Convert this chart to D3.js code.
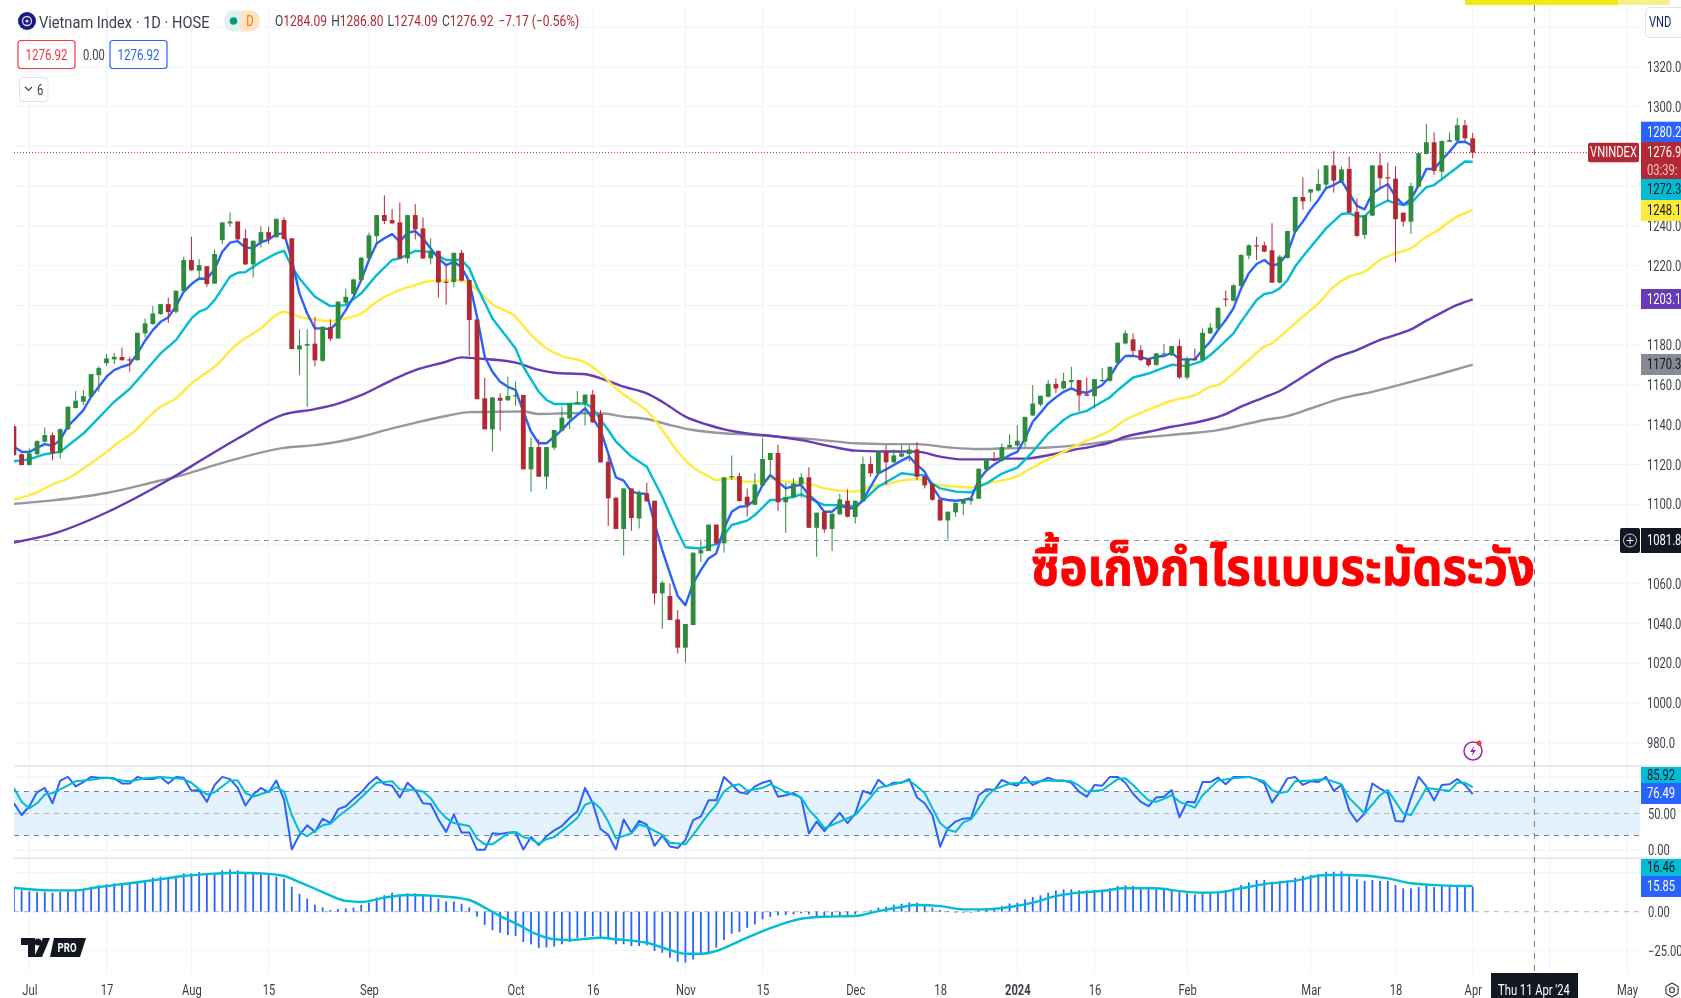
<!DOCTYPE html>
<html>
<head>
<meta charset="utf-8">
<title>Vietnam Index</title>
<script src="https://cdn.jsdelivr.net/npm/d3@7"></script>
<style>
    html, body { margin: 0; padding: 0; background: #fff; overflow: hidden; }
    text { font-family: Roboto, sans-serif; }
</style>
</head>
<body>
<div id="chart"></div>
<script>
// Daily candles, bar 0 is the first visible session, bar 189 is 1 Apr 2024
const opens = [
    1139.3,1125.2,1119.7,1125.2,1131.5,1134.8,1125.9,1137.7,1148.4,1151.6,
    1154.1,1165,1171,1172.9,1174.1,1172.9,1172.5,1186,1190.7,1195.7,
    1200.7,1196.9,1207.3,1222.9,1217.5,1219.8,1211,1232.9,1241.3,1242.3,
    1233.8,1220.7,1231.9,1236.9,1234.3,1243,1233.8,1177.9,1179.8,1180.8,
    1172.2,1189.1,1183.4,1201.4,1205.8,1212.8,1223.7,1234.9,1245.5,1243,
    1241.8,1223.7,1245.5,1238.8,1223.7,1227.5,1212,1211.8,1226.5,1212.8,
    1193,1153.3,1137.7,1153.6,1152.3,1154.3,1155,1117.6,1128.8,1113.9,
    1128.5,1137,1143.1,1150.5,1150.8,1155.2,1145.4,1121.4,1103.3,1087.6,
    1108,1092.9,1105.5,1101.8,1055.2,1053.9,1042.1,1027.9,1039.3,1075.3,
    1076.5,1089.8,1080.4,1113.6,1114.2,1103.8,1099.8,1109.4,1122.3,1125.8,
    1101,1103.5,1110.2,1113.6,1088.2,1096.3,1087.6,1095,1101.8,1093.6,
    1101.5,1120.3,1115.6,1126.5,1121.1,1124,1125.3,1127.6,1114.2,1110,
    1102.5,1091.9,1096,1100.3,1101.8,1102.8,1117.5,1122.6,1121.9,1128.6,
    1129.6,1131.6,1144.7,1150.2,1154.1,1160.6,1158.3,1161.5,1162.5,1155.3,
    1154.4,1162,1162.1,1171.2,1180.9,1183,1177.6,1173.4,1170,1175.6,
    1175,1179.6,1163.8,1173.2,1172.6,1186,1188.4,1203.5,1202.4,1209.8,
    1225.1,1230.3,1230.3,1227.8,1211.5,1223.9,1237.2,1254.6,1256.8,1257.8,
    1260.8,1270.5,1262.6,1268.7,1247.2,1235.5,1245.2,1270.5,1264.5,1263.8,
    1246.7,1242.2,1259.8,1276.2,1282.1,1267.3,1282.4,1282.9,1290.7,1284.09
];
const highs = [
    1140.3,1125.6,1128.1,1132.3,1138.7,1136.1,1138.2,1149.1,1156.9,1157.4,
    1165.5,1169.5,1175.6,1176.1,1178.9,1174.2,1186.3,1193.5,1199.7,1200.7,
    1204,1207.8,1224.5,1234.6,1223.4,1219.8,1228.2,1241.8,1246.8,1242.3,
    1238.3,1232.6,1240,1239.6,1243.6,1244.3,1233.8,1188.1,1188.1,1194.3,
    1189.6,1193,1202,1208.6,1213.5,1224.5,1236.6,1245.5,1255.4,1248.5,
    1251.7,1245.5,1251,1244.3,1233.8,1227.5,1220.3,1226.5,1227.9,1212.8,
    1193,1163.7,1153.8,1155.8,1164.2,1161.7,1155,1133.7,1132.7,1128.8,
    1137.4,1149.1,1150.8,1157,1155.2,1157.5,1147.4,1124.8,1103.8,1108,
    1108,1107.2,1110.9,1101.8,1061.6,1060.2,1046.8,1039.8,1075.7,1082.4,
    1089.8,1089.8,1113.6,1124.6,1115.9,1108,1115.6,1133.2,1125.8,1130,
    1110.9,1113.1,1115.6,1118.6,1095.8,1096.8,1095.3,1105.2,1107.5,1101.8,
    1124,1124,1126.5,1130,1127.6,1129.8,1129.8,1131.3,1114.2,1110.6,
    1102.5,1096.3,1100.8,1102.2,1103.8,1118.2,1123.1,1126.4,1130.6,1135.1,
    1139.8,1144,1160,1154.6,1162.5,1163.3,1166.2,1169.2,1162.5,1163.8,
    1163,1168.7,1169.2,1181.3,1187.5,1186,1180.1,1173.4,1176.2,1180.6,
    1179.6,1183,1174.2,1178.4,1188.5,1191.1,1199.4,1207.5,1210.7,1225.8,
    1230.8,1234.6,1232.1,1241.4,1225.4,1237.5,1254.6,1264.5,1258.5,1268.5,
    1270.5,1277.7,1269.9,1274.9,1253.9,1245.5,1270.5,1276.6,1271.9,1269.9,
    1246.7,1261.8,1276.9,1291.3,1287.1,1282.8,1287.1,1294.2,1293.3,1286.8
];
const lows = [
    1124.7,1119.7,1119.7,1124.7,1131.1,1122.2,1122.9,1137.3,1148.4,1149.9,
    1153.8,1156.6,1169.5,1170.5,1172.2,1166.7,1172.2,1184,1190.3,1195.3,
    1191.3,1196,1206.9,1217.5,1213.6,1209.4,1210.8,1230.9,1239.6,1232.9,
    1220.3,1214,1229.2,1230.9,1234.3,1233.2,1178.1,1165,1149.1,1169.5,
    1171.7,1182.1,1183.3,1200.7,1204,1212.5,1223.3,1230.4,1241,1240.8,
    1223.4,1221.2,1233.2,1223.4,1220.7,1204,1200.4,1209.4,1212,1174.6,
    1152.8,1137.7,1126.5,1137,1152.1,1149.6,1117.6,1106.4,1113.9,1107.7,
    1127.3,1136.9,1137.9,1150,1139.6,1141.1,1121.1,1089.1,1087.6,1074.2,
    1086.7,1087.9,1101.3,1049.7,1037.4,1041.8,1025,1020.3,1039.3,1071,
    1076.5,1079.5,1075.7,1112.2,1101.3,1093.8,1099.5,1108.9,1113.9,1096.6,
    1085.7,1103,1103.3,1088.2,1073.7,1085.7,1076.5,1094.6,1093.4,1090.4,
    1101.3,1113.9,1115.1,1109.7,1120.6,1123.6,1121.5,1112.2,1108,1101.8,
    1091.8,1082.5,1093.8,1094.6,1099.8,1102.7,1117.2,1121.6,1121.6,1128.3,
    1128.9,1128.9,1144.4,1149.4,1153.8,1156.1,1157.8,1157.4,1146.7,1154.4,
    1148.2,1161.6,1161.6,1170.5,1180.4,1174.6,1172.2,1169.2,1170,1175,
    1174.6,1163.1,1162.8,1172.2,1172.3,1185.7,1188,1199.4,1202.1,1209.5,
    1223.2,1222.9,1226.8,1211.5,1211.2,1223.7,1236.8,1248.1,1252.3,1257.3,
    1258.5,1256.8,1262.3,1246.7,1234.3,1233.6,1245,1259,1252.8,1221.7,
    1239.7,1236,1259.5,1276.1,1265.7,1264,1282.1,1282.6,1282.9,1274.09
];
const closes = [
    1124.7,1119.7,1125.6,1131.8,1134.8,1125.6,1137.8,1149.1,1152.1,1154.4,
    1165.5,1168.5,1173.4,1174.2,1172.5,1172.4,1186.3,1191,1196,1200.7,
    1196.7,1207.4,1222.9,1217.7,1220.3,1210.8,1225.9,1241.8,1242.3,1233.3,
    1220.7,1232.6,1236.9,1233.6,1243.6,1233.4,1178.1,1179.9,1180.6,1172.4,
    1189.3,1183.3,1202,1204.4,1213.1,1224,1235.3,1245.5,1242.5,1241.3,
    1223.7,1245.5,1238.3,1223.7,1227.5,1211.6,1211.6,1226.5,1212.5,1192.7,
    1152.9,1137.7,1153.8,1152.1,1154.5,1155,1117.6,1128.8,1113.9,1128.8,
    1137.4,1143.6,1150.8,1151.5,1155.2,1141.2,1121.1,1103,1087.6,1108,
    1093.1,1106,1101.5,1055.2,1060.6,1041.8,1027.9,1039.8,1075.7,1077,
    1089.8,1080.4,1113.6,1114.2,1101.7,1099.6,1110,1122.8,1125.8,1101,
    1103.7,1110.5,1113.6,1088.2,1095.8,1087.4,1095.3,1102.5,1093.8,1101.8,
    1120.3,1115.6,1126.5,1121.1,1124.6,1125.6,1127.6,1113.9,1109.5,1102.3,
    1091.9,1096.3,1100.8,1102.2,1103,1117.9,1122.7,1121.9,1128.8,1129.9,
    1132,1144,1150.7,1154.6,1160.6,1158.3,1162,1162.5,1154.8,1154.6,
    1163,1162.5,1169.2,1181.3,1186,1177.2,1172.5,1170,1175.9,1175.9,
    1179.6,1163.8,1172.9,1172.5,1186.3,1188.9,1198.8,1203.1,1210.2,1225.4,
    1230.3,1229.9,1227.1,1211.5,1224.6,1237.5,1254.6,1252.4,1258.5,1261.1,
    1270.5,1262.8,1268.5,1246.7,1235,1245.5,1270.5,1264,1264,1243.4,
    1242.2,1260.1,1276.6,1282.1,1267.7,1282.8,1283.3,1290.7,1284.1,1276.92
];

// Moving averages, the fast one for every bar, the others at the bars they were read from
const maFast = [
    1128.9,1126.4,1126.3,1128.4,1130.3,1129.4,1132.3,1139.3,1143.2,1147.4,
    1154.1,1159.1,1164.2,1167.5,1169.2,1170.4,1175.9,1182.3,1187.6,1191.8,
    1194,1199.7,1206.9,1210.8,1213.6,1213.3,1218.2,1227,1231.6,1232.4,
    1229,1229,1231.7,1233.2,1235.9,1236.3,1222.9,1206.1,1196,1188.5,
    1188.5,1188.1,1191.8,1197.7,1204.4,1212.8,1222.9,1231.2,1233.8,1235.9,
    1232.1,1236.6,1237.4,1233.8,1228.7,1223.7,1220.3,1222,1219.2,1212,
    1194.3,1174.2,1166.7,1161.6,1159.1,1157.5,1146.6,1136.5,1130.7,1130.7,
    1134,1137.4,1141.6,1144.9,1148.3,1143.2,1137.4,1125.6,1113.6,1111.9,
    1106.4,1105.5,1105.2,1090.4,1077,1065.3,1053.9,1049.3,1060.2,1066.9,
    1072.8,1075.3,1087.9,1096.3,1098.8,1099.1,1102.2,1109.7,1114.7,1111.4,
    1108,1109.2,1109.7,1104.7,1101.3,1096.3,1096.3,1099.6,1098,1098,
    1102.2,1108.9,1115.6,1117.6,1119.8,1122,1124,1119.8,1116.4,1108.9,
    1103,1102.2,1101.8,1102.2,1103,1112.2,1117,1120,1122.5,1124.7,
    1126.4,1133.1,1141.5,1146,1150.7,1153.8,1156.6,1158.3,1156.6,1156.1,
    1157.9,1160,1164.2,1170.5,1174.6,1174.7,1173.9,1173,1174.2,1174.6,
    1176.2,1173,1172.9,1173,1177.6,1181.8,1187.7,1192.7,1198.6,1208.6,
    1216.2,1220.9,1222.9,1219.9,1221.2,1226.3,1237.2,1242.2,1248.1,1253.1,
    1259,1260.6,1262.8,1256.4,1250.1,1248.4,1256.4,1259,1261,1254.8,
    1250.6,1253.4,1260.6,1268.7,1268.7,1273.2,1277.4,1282.1,1282.4,1280.2
];
const ma20Bars = [
    0,2,4,6,9,13,15,19,21,23,24,25,26,28,29,30,32,34,35,36,37,39,41,43,45,47,49,50,52,54,56,58,59,60,62,65,66,68,
    69,70,72,74,75,76,77,78,80,82,84,86,87,89,91,92,93,95,96,98,99,101,102,104,105,107,109,110,112,115,117,118,119,
    120,122,124,125,126,128,130,132,134,136,137,139,141,142,143,145,147,149,150,152,154,155,156,158,159,161,162,163,
    164,165,166,167,170,172,173,174,175,176,178,179,180,181,182,183,184,186,188,189
];
const ma20 = [
    1121.7,1122.6,1125.2,1126.4,1135.6,1151.6,1158,1175.9,1182.6,1193.5,1196.9,1198.5,1202.7,1214.5,1216.5,1216.8,
    1222,1226.2,1227.5,1219.5,1213.6,1204.4,1199.7,1200.2,1206.1,1215.3,1222.9,1223.7,1227.5,1227,1222.9,1222.9,
    1218.7,1209.4,1193.5,1178.4,1169.2,1156.6,1152.5,1150.5,1150.5,1150.8,1148.3,1142.4,1137.4,1131.5,1124,1118.9,
    1103.8,1086.2,1078.4,1077.8,1080,1084.6,1089.6,1091.8,1094.6,1102.2,1102.2,1103.8,1105,1101.3,1099.6,1099.6,
    1099.1,1101.8,1108.9,1115.6,1114.7,1114.7,1110.5,1108,1106.4,1106,1108.9,1110.5,1115.5,1118.5,1126.4,1135.6,
    1142.4,1144.9,1147,1151.6,1153.8,1157.4,1163.8,1165.8,1168.7,1170.2,1169.5,1172.2,1175.1,1178.5,1186,1191.9,
    1202.8,1205.8,1206.5,1208.6,1212.8,1219.6,1224.6,1238.8,1246,1246.4,1245,1244.7,1248.9,1252.8,1251.4,1250.6,
    1251.4,1255.6,1259.5,1260.6,1266.5,1272.4,1272.3
];
const ma50Bars = [
    0,3,5,7,9,12,14,15,19,21,23,26,29,32,34,35,37,39,41,43,45,47,50,52,54,56,58,60,62,65,67,69,71,74,76,78,80,82,84,86,88,
    90,91,93,95,96,98,100,103,105,107,109,111,113,115,117,119,121,124,126,130,132,134,136,138,140,142,144,146,149,150,153,
    155,156,158,160,162,163,165,167,169,171,173,175,177,179,181,183,184,187,189
];
const ma50 = [
    1102.4,1106,1110,1113,1118,1126.4,1132.3,1134.8,1149.1,1153.3,1160.8,1169.2,1180.9,1188.5,1195.2,1196.9,1194.3,
    1193,1192.2,1193.5,1196,1201.9,1207.8,1210.3,1212.3,1212.5,1212.8,1207.8,1200.7,1194.3,1185.2,1178.5,1174.6,
    1171.4,1165.9,1158.3,1152.5,1147.1,1137.4,1126.5,1118.6,1114.2,1112.2,1113,1111.4,1111.4,1113,1111.4,1110.5,1108,
    1106.9,1106.4,1108.9,1110.2,1111.9,1112.6,1110.2,1109.2,1108.5,1110.5,1114.2,1118.5,1122.6,1126.4,1130.3,1133.6,
    1137,1142.4,1146,1150.7,1152.1,1154.9,1159.1,1160,1165.9,1172.6,1179.3,1181,1187.7,1194.4,1201.1,1209.5,1214.5,
    1217,1222.9,1226.3,1228.8,1234.6,1236.7,1244.7,1248.1
];
const ma100Bars = [
    0,5,12,20,25,29,35,39,42,45,49,52,56,58,60,65,68,70,74,76,79,82,84,87,90,92,96,98,102,106,109,113,117,120,123,127,
    128,131,134,137,140,142,144,147,150,154,157,159,162,164,167,171,174,177,179,181,183,184,187,189
];
const ma100 = [
    1080.8,1085.1,1095.9,1112.2,1123.9,1133.1,1145.2,1147.9,1150.7,1154.9,1162.5,1167.5,1171.7,1173.9,1173.4,1171.3,
    1167.6,1166.2,1165.4,1163.4,1159.2,1155.8,1151.6,1144.1,1139.9,1137.7,1135.2,1134.5,1132.3,1129,1127,1126.6,1126.5,
    1124,1122.6,1122.6,1123,1123,1124.7,1127.2,1129.3,1131.1,1134,1136.5,1139,1141.9,1145.4,1149.1,1153.8,1157,1164.2,
    1173.4,1177.6,1182.7,1185.2,1188,1192.4,1194.4,1200.3,1203.1
];
const ma200Bars = [
    0,5,12,19,21,25,29,35,39,42,45,49,52,56,59,63,66,68,72,76,79,82,85,88,91,96,100,103,106,109,113,117,121,125,128,134,
    138,143,147,152,156,159,162,165,168,172,176,181,185,189
];
const ma200 = [
    1100.2,1102,1105.7,1112,1113.8,1118.5,1123,1128.4,1129.8,1131.5,1134,1138.2,1141,1144.4,1146.4,1146.6,1146.7,1145.4,
    1145.8,1145.8,1144.1,1142.9,1139.9,1137.4,1136,1134.9,1133.7,1132.9,1131.8,1130.7,1130.3,1130.3,1128.7,1127.8,1128.1,
    1128.6,1129.8,1132.3,1133.9,1135.6,1137.3,1139.8,1142.4,1144.4,1148.2,1153.3,1156.6,1161.6,1165.8,1170.3
];

// Stochastic RSI
const stochK = [
    64,48,60,79,85,64,95,100,87,93,100,99,99,98,91,91,100,97,97,100,
    91,100,99,81,82,66,89,100,97,85,61,76,85,79,95,69,1,21,34,25,
    43,37,56,60,70,79,91,100,90,88,72,92,82,64,63,42,25,49,24,24,
    0.5,0.5,23,22,24,24,1,18,7,19,27,33,44,53,85,64,29,21,1,42,
    24,40,35,6,20,5,3,14,41,46,68,68,100,90,79,77,87,92,95,73,
    75,78,71,23,39,26,39,51,37,50,81,77,96,87,92,92,97,72,64,48,
    5,30,39,43,44,75,83,82,96,91,88,100,89,94,99,95,95,92,80,73,
    89,88,100,100,92,77,66,60,72,73,82,45,66,65,93,93,99,90,100,100,
    100,97,91,65,80,98,100,89,94,93,100,81,89,54,39,50,91,84,78,40,
    39,71,100,87,68,89,90,97,89,76.49
];
const stochDBars = [
    0,1,2,3,4,5,6,8,10,12,14,15,17,19,22,23,24,25,26,28,29,30,31,33,34,35,36,37,38,40,41,42,44,46,47,49,50,52,53,54,55,
    56,57,59,60,61,62,64,65,66,67,68,69,70,72,73,74,75,76,77,78,80,81,82,84,85,87,88,90,91,92,93,94,95,97,98,100,102,103,
    104,105,107,109,110,111,112,114,116,117,118,119,120,121,122,123,124,125,126,127,129,131,134,137,138,139,141,143,144,
    145,146,147,148,149,150,151,153,154,155,156,158,160,162,163,164,165,166,168,170,172,173,175,177,178,180,181,183,185,
    186,187,188,189
];
const stochD = [
    85,66,57,64,76,78,83,94,96,99,95,94,98,100,97,92,83,76,79,95,95,78,73,80,86,80,48,25,19,34,36,46,62,82,92,94,83,82,80,
    71,55,44,37,33,16,8,8,23,25,18,15,9,15,18,35,44,62,66,57,39,16,23,35,32,21,10,8,21,50,62,80,88,90,81,85,90,79,72,55,
    44,30,39,48,60,72,85,90,95,87,78,57,37,28,25,38,42,57,73,83,91,92,95,94,88,80,82,97,98,89,78,68,66,70,75,66,58,75,85,
    95,98,100,94,82,78,80,94,95,97,90,71,50,75,82,50,48,85,82,81,92,92,85.92
];

// MACD histogram and signal
const macdHist = [
    14.7,13.7,13,12.6,12.6,12.2,12.8,13.2,13.2,13.9,16,16.9,17.5,18.2,18.2,18.6,19.7,20.1,21.8,22.4,
    22.4,22.9,24.6,24.6,25.4,24.6,24.6,26.5,27.1,26.5,25,24.6,23.9,23.5,22.4,21.2,16,11.5,8.3,4.5,
    2.8,1.1,1.7,2.1,2.6,4.3,5.8,9,10.5,12.2,11.1,11.8,11.8,11.1,10,8.3,6.6,6.4,5.1,2.8,
    -3.2,-8.5,-11.8,-13.5,-15,-15.6,-19.4,-20.9,-23.3,-22.9,-22.4,-20.9,-19.4,-17.1,-16,-15.6,-16.7,-17.7,-20.9,-20.9,
    -22,-22,-21.6,-25.2,-26.3,-29.5,-32.1,-32.7,-30.6,-27.4,-25.9,-23.1,-18.2,-14.1,-13,-10.3,-8.1,-4.9,-3.4,-2.4,
    -2.1,-1.7,-1.1,-1.7,-2.8,-3.2,-3.2,-2.8,-2.8,-1.7,-0.2,1.1,2.6,3.2,4.5,5.1,6,5.8,4.7,2.6,
    1.1,0.4,-0.6,-0.6,-0.6,1.1,2.1,2.1,3.6,5.3,5.8,7.9,9.4,10.5,12.2,13.7,14.3,14.3,13.7,13.7,
    13.9,14.3,15,16.5,16.9,16.5,15.8,15.6,15.4,14.5,13.9,12.8,11.8,11.1,12.2,12.8,12.2,13.9,15,17.1,
    18.8,20.3,20.3,19.2,19.7,19.9,21.8,22.9,23.5,24.1,25.6,25.6,25.9,23.1,20.9,19.7,20.3,19.7,19.7,17.1,
    15,15,15.8,16.7,15.8,16.7,16.7,16.7,16.7,15.85
];
const macdSignalBars = [
    0,5,8,11,15,19,22,26,29,32,35,37,40,43,45,48,51,55,59,61,63,65,68,70,72,76,78,82,85,87,89,91,94,97,100,102,105,109,
    112,115,117,120,123,126,129,132,135,138,141,144,148,151,154,156,159,162,166,170,173,178,181,185,189
];
const macdSignal = [
    15.4,13.7,13.7,15.8,18.2,20.8,22.9,24.4,25,24.6,22.9,19,12.6,6.9,6.2,9,10.7,10,7.5,2.6,-2.8,-7.5,-15,-17.7,-18.2,
    -16.7,-17.7,-19.9,-24.6,-27,-27,-25.2,-18.8,-12.4,-7.1,-4.5,-3.2,-2.8,0.4,3,4.3,3.6,1.5,1.5,3,5.8,10,12.2,13.3,15,
    15,13.2,12.2,12.4,15,17.7,19.9,23.5,23.5,21.4,18.2,16.9,16.46
];

// Axis ticks
const priceTicks = [1340,1320,1300,1280,1260,1240,1220,1200,1180,1160,1140,1120,1100,1080,1060,1040,1020,1000,980];
const priceLabelTicks = [1320,1300,1240,1220,1180,1160,1140,1120,1100,1060,1040,1020,1000,980];
const timeTickBars = [2,12,23,33,46,65,75,87,97,109,120,130,140,152,168,179,189,209];
const timeTickLabels = ['Jul','17','Aug','15','Sep','Oct','16','Nov','15','Dec','18','2024','16','Feb','Mar','18','Apr','May'];
const hiddenTickBars = [199];
const stochGridTicks = [100,0];
const stochLabelTicks = [50,0];
const macdGridTicks = [25,-25];
const macdLabelTicks = [0,-25];

// Last values and markers
const lastClose = 1276.92;
const alertPrice = 1081.8;
const crosshairBar = 197;
const ohlcLabels = ['O','H','L','C'];
const ohlcValues = ['1284.09','1286.80','1274.09','1276.92'];
const annotation = 'ซื้อเก็งกำไรแบบระมัดระวัง';

const colors = {
    up: '#2e8b3d', down: '#b22833', blue: '#2962ff', cyan: '#00bcd4', yellow: '#ffeb3b',
    purple: '#673ab7', grey: '#9598a1', grid: '#f0f3fa', text: '#3c3f4a', dark: '#131722'
};

const width = 1681, height = 998;
const chartRight = 1640;

const svg = d3.select('#chart').append('svg')
    .attr('width', width)
    .attr('height', height)
    .style('display', 'block')
    .style('filter', 'blur(0.45px)');

// The plot starts at x = 14, the first candle is cut in half there
svg.append('clipPath').attr('id', 'plotClip')
    .append('rect')
    .attr('x', 14).attr('y', 0)
    .attr('width', chartRight - 14).attr('height', height);

// Scales
const x = d3.scaleLinear().domain([0, 189]).range([13.9, 1472.7]);
const y = d3.scaleLinear().domain([1300, 980]).range([106.7, 742.9]);
const yStoch = d3.scaleLinear().domain([100, 0]).range([776.9, 850.2]);
const yMacd = d3.scaleLinear().domain([25, -25]).range([872.7, 950.7]);

const hLine = (g, yPos, color, dash, x2 = chartRight) => g.append('line')
    .attr('x1', 14).attr('x2', x2)
    .attr('y1', yPos).attr('y2', yPos)
    .attr('stroke', color)
    .attr('stroke-dasharray', dash || null);

// Grid
const grid = svg.append('g');
timeTickBars.concat(hiddenTickBars).forEach(b => {
    grid.append('line')
        .attr('x1', x(b)).attr('x2', x(b))
        .attr('y1', 5).attr('y2', 973)
        .attr('stroke', colors.grid);
});
priceTicks.forEach(v => hLine(grid, y(v), colors.grid));
stochGridTicks.forEach(v => hLine(grid, yStoch(v), colors.grid));
macdGridTicks.forEach(v => hLine(grid, yMacd(v), colors.grid));

// Pane separators
hLine(svg, 766, '#e0e3eb', null, width).attr('stroke-width', 1.5);
hLine(svg, 858.3, '#e0e3eb', null, width).attr('stroke-width', 1.5);

// Price lines
hLine(svg, y(alertPrice), '#9598a1', '5 5');
hLine(svg, y(lastClose), colors.down, '1 2');

const drawLine = (g, line, bars, values, color, w) => g.append('path')
    .datum(bars.map((b, i) => [b, values[i]]))
    .attr('fill', 'none')
    .attr('stroke', color)
    .attr('stroke-width', w)
    .attr('stroke-linejoin', 'round')
    .attr('d', line);

// Moving averages
const maLine = d3.line().x(d => x(d[0])).y(d => y(d[1]));
const maSmooth = d3.line().x(d => x(d[0])).y(d => y(d[1])).curve(d3.curveMonotoneX);
const averages = svg.append('g').attr('clip-path', 'url(#plotClip)');
drawLine(averages, maSmooth, ma200Bars, ma200, colors.grey, 2.4);
drawLine(averages, maSmooth, ma100Bars, ma100, colors.purple, 2.4);
drawLine(averages, maSmooth, ma50Bars, ma50, colors.yellow, 2.4);
drawLine(averages, maLine, ma20Bars, ma20, colors.cyan, 2.4);
drawLine(averages, maLine, maFast.map((d, i) => i), maFast, colors.blue, 2.4);

// Candles
const candles = opens.map((o, i) => ({ bar: i, o, h: highs[i], l: lows[i], c: closes[i] }));
const candleColor = d => d.c >= d.o ? colors.up : colors.down;
const candleGroup = svg.append('g').attr('clip-path', 'url(#plotClip)');
candleGroup.selectAll('.wick')
    .data(candles)
    .enter().append('line')
    .attr('x1', d => x(d.bar)).attr('x2', d => x(d.bar))
    .attr('y1', d => y(d.h)).attr('y2', d => y(d.l))
    .attr('stroke', candleColor)
    .attr('stroke-width', 1);
candleGroup.selectAll('.body')
    .data(candles)
    .enter().append('rect')
    .attr('x', d => x(d.bar) - 2.4)
    .attr('width', 4.8)
    .attr('y', d => y(Math.max(d.o, d.c)))
    .attr('height', d => Math.max(1.2, Math.abs(y(d.o) - y(d.c))))
    .attr('fill', candleColor);

// Stochastic RSI pane
svg.append('rect')
    .attr('x', 14).attr('width', chartRight - 14)
    .attr('y', yStoch(80)).attr('height', yStoch(20) - yStoch(80))
    .attr('fill', '#e3f2fd');
hLine(svg, yStoch(80), '#787b86', '5 5');
hLine(svg, yStoch(50), '#b2b5be', '5 5');
hLine(svg, yStoch(20), '#787b86', '5 5');
const stochLine = d3.line().x(d => x(d[0])).y(d => yStoch(d[1]));
const stochGroup = svg.append('g').attr('clip-path', 'url(#plotClip)');
drawLine(stochGroup, stochLine, stochK.map((d, i) => i), stochK, colors.blue, 2);
drawLine(stochGroup, stochLine, stochDBars, stochD, colors.cyan, 2);

// MACD pane
hLine(svg, yMacd(0), '#b2b5be', '5 5');
const macdGroup = svg.append('g').attr('clip-path', 'url(#plotClip)');
macdGroup.selectAll('rect')
    .data(macdHist)
    .enter().append('rect')
    .attr('x', (d, i) => x(i) - 0.9)
    .attr('width', 1.8)
    .attr('y', d => yMacd(Math.max(d, 0)))
    .attr('height', d => Math.max(0.6, Math.abs(yMacd(d) - yMacd(0))))
    .attr('fill', colors.blue);
const macdLine = d3.line().x(d => x(d[0])).y(d => yMacd(d[1])).curve(d3.curveMonotoneX);
drawLine(macdGroup, macdLine, macdSignalBars, macdSignal, colors.cyan, 2.4);

// Crosshair
svg.append('line')
    .attr('x1', x(crosshairBar)).attr('x2', x(crosshairBar))
    .attr('y1', 5).attr('y2', 973)
    .attr('stroke', '#787b86')
    .attr('stroke-dasharray', '6 6');

// Right axes
const styleAxis = g => {
    g.select('.domain').remove();
    g.selectAll('text')
        .attr('font-size', 14)
        .attr('fill', colors.text);
};
svg.append('g')
    .attr('transform', 'translate(1640,0)')
    .call(d3.axisRight(y).tickValues(priceLabelTicks).tickFormat(d3.format('.1f')).tickSize(0).tickPadding(7))
    .call(styleAxis);
svg.append('g')
    .attr('transform', 'translate(1640,0)')
    .call(d3.axisRight(yStoch).tickValues(stochLabelTicks).tickFormat(d3.format('.2f')).tickSize(0).tickPadding(8))
    .call(styleAxis);
svg.append('g')
    .attr('transform', 'translate(1640,0)')
    .call(d3.axisRight(yMacd).tickValues(macdLabelTicks).tickFormat(d3.format('.2f')).tickSize(0).tickPadding(8))
    .call(styleAxis);

// Time axis
svg.append('g')
    .attr('transform', 'translate(0,980)')
    .call(d3.axisBottom(x).tickValues(timeTickBars).tickFormat((d, i) => timeTickLabels[i]).tickSize(0).tickPadding(5))
    .call(styleAxis)
    .call(g => g.selectAll('text').filter(d => d === 130).attr('font-weight', 'bold'));

/**
 * Colored value tag on the price axis.
 */
const axisTag = (top, bottom, bg, fg, label) => {
    svg.append('rect')
        .attr('x', 1641).attr('y', top)
        .attr('width', 40).attr('height', bottom - top)
        .attr('fill', bg);
    svg.append('text')
        .attr('x', 1647).attr('y', (top + bottom) / 2 + 5)
        .attr('font-size', 14).attr('fill', fg)
        .text(label);
};
axisTag(121.7, 142, colors.blue, '#fff', '1280.2');
axisTag(142, 162, colors.down, '#fff', '1276.9');
axisTag(162, 179, colors.down, '#eec9cc', '03:39:');
axisTag(179, 200, colors.cyan, colors.dark, '1272.3');
axisTag(200, 221, colors.yellow, colors.dark, '1248.1');
axisTag(289, 309, colors.purple, '#fff', '1203.1');
axisTag(354, 375, '#878b94', colors.dark, '1170.3');
axisTag(528, 553, colors.dark, '#fff', '1081.8');
axisTag(767, 783, colors.cyan, colors.dark, '85.92');
axisTag(783, 804, colors.blue, '#fff', '76.49');
axisTag(859, 876, colors.cyan, colors.dark, '16.46');
axisTag(876, 897, colors.blue, '#fff', '15.85');

// VNINDEX tag on the last price
svg.append('rect')
    .attr('x', 1588).attr('y', 142.7).attr('width', 51).attr('height', 19.5).attr('rx', 2)
    .attr('fill', colors.down);
svg.append('text')
    .attr('x', 1613.5).attr('y', 157).attr('text-anchor', 'middle')
    .attr('font-size', 14).attr('fill', '#fff')
    .text('VNINDEX');

// Add alert button next to the alert price
svg.append('rect')
    .attr('x', 1620).attr('y', 528).attr('width', 20).attr('height', 25).attr('rx', 2)
    .attr('fill', colors.dark);
svg.append('circle').attr('cx', 1630).attr('cy', 540.5).attr('r', 6.5)
    .attr('fill', 'none').attr('stroke', '#d1d4dc');
svg.append('path').attr('d', 'M1626.5 540.5 h7 M1630 537 v7').attr('stroke', '#fff');

// VND button
svg.append('rect')
    .attr('x', 1645.5).attr('y', 7.5).attr('width', 45).attr('height', 30).attr('rx', 4)
    .attr('fill', '#fff').attr('stroke', '#e0e3eb');
svg.append('text').attr('x', 1649).attr('y', 27).attr('font-size', 14).attr('fill', '#1a2a6c').text('VND');

// Yellow promo strip at the top
svg.append('rect').attr('x', 1465).attr('y', 0).attr('width', 153).attr('height', 5).attr('fill', '#efea13');
svg.append('rect').attr('x', 1618).attr('y', 0).attr('width', 52).attr('height', 5).attr('fill', '#f5f08a');

// Crosshair date tag
svg.append('rect')
    .attr('x', 1491).attr('y', 973).attr('width', 87).attr('height', 25)
    .attr('fill', colors.dark);
svg.append('text')
    .attr('x', 1534).attr('y', 995).attr('text-anchor', 'middle')
    .attr('font-size', 14).attr('fill', '#fff')
    .text("Thu 11 Apr '24");

// Settings gear
svg.append('path')
    .attr('transform', 'translate(1672,990)')
    .attr('d', d3.line()(d3.range(7).map(k => [7 * Math.sin(k * Math.PI / 3), 7 * Math.cos(k * Math.PI / 3)])))
    .attr('fill', 'none').attr('stroke', colors.text).attr('stroke-width', 1.2);
svg.append('circle').attr('cx', 1672).attr('cy', 990).attr('r', 2.5)
    .attr('fill', 'none').attr('stroke', colors.text).attr('stroke-width', 1.2);

// Header
const logo = svg.append('g').attr('transform', 'translate(27,21)');
logo.append('circle').attr('r', 9).attr('fill', '#1b1b7e');
logo.append('circle').attr('r', 4.5).attr('fill', 'none').attr('stroke', '#d8dcf5').attr('stroke-width', 1.3);
logo.append('circle').attr('r', 1.5).attr('fill', '#d8dcf5');

svg.append('text')
    .attr('x', 39).attr('y', 28)
    .attr('data-sx', 0.86)
    .attr('font-size', 17).attr('fill', colors.text)
    .text('Vietnam Index · 1D · HOSE');

svg.append('path')
    .attr('d', 'M241 10.5 H233 a9 10.5 0 0 0 0 21 H241 Z')
    .attr('fill', '#dff1ee');
svg.append('path')
    .attr('d', 'M241 10.5 H251 a9 10.5 0 0 1 0 21 H241 Z')
    .attr('fill', '#ffe3c2');
svg.append('circle').attr('cx', 233.5).attr('cy', 21).attr('r', 3.8).attr('fill', '#089981');
svg.append('text')
    .attr('x', 250).attr('y', 26).attr('text-anchor', 'middle')
    .attr('font-size', 14).attr('fill', '#f57c00')
    .text('D');

// OHLC legend
const ohlc = svg.append('text').attr('x', 275).attr('y', 26).attr('font-size', 14.5).attr('data-sx', 0.83);
ohlcLabels.forEach((l, i) => {
    ohlc.append('tspan').attr('fill', colors.text).attr('dx', i ? 5 : 0).text(l);
    ohlc.append('tspan').attr('fill', colors.down).text(ohlcValues[i]);
});
ohlc.append('tspan').attr('fill', colors.down).attr('dx', 6).text('−7.17 (−0.56%)');

// Buy and sell boxes
const priceBox = (bx, color) => {
    svg.append('rect')
        .attr('x', bx).attr('y', 40.5).attr('width', 57).attr('height', 28).attr('rx', 3)
        .attr('fill', '#fff').attr('stroke', color).attr('stroke-width', 1.2);
    svg.append('text')
        .attr('x', bx + 28.5).attr('y', 60).attr('text-anchor', 'middle')
        .attr('font-size', 14.5).attr('fill', color)
        .text('1276.92');
};
priceBox(18, '#f23645');
priceBox(110, colors.blue);
svg.append('text').attr('x', 83).attr('y', 60).attr('font-size', 14).attr('fill', colors.text).text('0.00');

// Collapsed indicators button
svg.append('rect')
    .attr('x', 19.5).attr('y', 77.5).attr('width', 28.5).attr('height', 24).attr('rx', 3)
    .attr('fill', '#fff').attr('stroke', '#e0e3eb');
svg.append('path').attr('d', 'M25 87 l3.5 3.5 l3.5 -3.5').attr('fill', 'none').attr('stroke', colors.text).attr('stroke-width', 1.2);
svg.append('text').attr('x', 37).attr('y', 95).attr('font-size', 14).attr('fill', colors.text).text('6');

// Lightning badge
const badge = svg.append('g').attr('transform', 'translate(1473,751)');
badge.append('circle').attr('r', 9).attr('fill', '#fff').attr('stroke', '#9c27b0').attr('stroke-width', 1.5);
badge.append('path').attr('d', 'M1.5 -5.5 L-3 1 H0 L-1.5 5.5 L3 -1 H0 Z').attr('fill', '#9c27b0');
badge.append('circle').attr('cx', 6).attr('cy', -8).attr('r', 2.5).attr('fill', '#f23645');

// TradingView PRO mark
const tv = svg.append('g').attr('fill', colors.dark);
tv.append('path').attr('d', 'M21 938 H35 V957 H28 V945 H21 Z');
tv.append('circle').attr('cx', 38).attr('cy', 942).attr('r', 3.5);
tv.append('path').attr('d', 'M43 938 H50 L42 957 H34 Z');
tv.append('path').attr('d', 'M54 938 H86 L80 957 H50 Z');
svg.append('text')
    .attr('x', 67).attr('y', 952).attr('text-anchor', 'middle')
    .attr('font-size', 12).attr('font-weight', 'bold').attr('fill', '#fff')
    .text('PRO');

// The screenshot is squeezed sideways, so narrow every label the same way
svg.selectAll('text').each(function () {
    const anchor = getComputedStyle(this).textAnchor;
    const sx = +this.getAttribute('data-sx') || 0.8;
    d3.select(this)
        .style('transform-box', 'fill-box')
        .style('transform-origin', anchor === 'middle' ? '50% 50%' : '0 50%')
        .style('transform', `scaleX(${sx})`);
});

// Annotation
svg.append('text')
    .attr('x', 1031).attr('y', 585)
    .style('font-family', "'Noto Sans Thai','Noto Sans','DejaVu Sans',sans-serif")
    .attr('font-size', 51).attr('font-weight', 'bold')
    .attr('fill', '#ff0000')
    .attr('stroke', '#ff0000').attr('stroke-width', 0.8)
    .attr('textLength', 504).attr('lengthAdjust', 'spacingAndGlyphs')
    .text(annotation);
</script>
</body>
</html>
